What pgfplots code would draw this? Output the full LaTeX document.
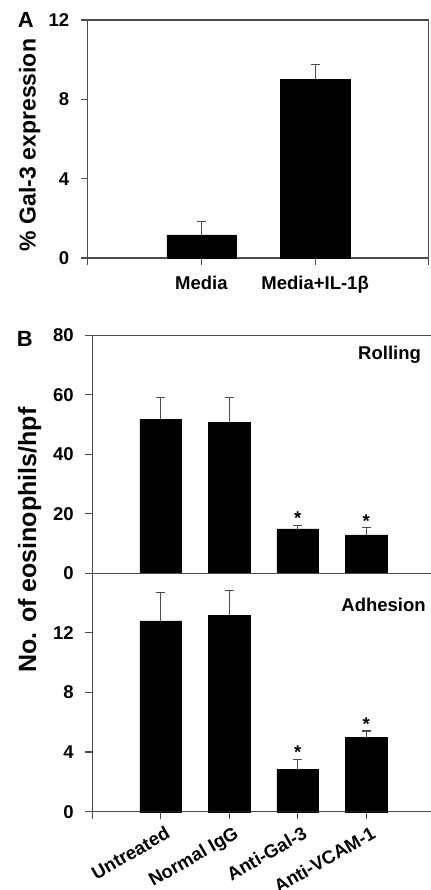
\documentclass[border=0pt]{standalone}
\usepackage{pgfplots}
\pgfplotsset{compat=1.18}
\usepackage{fontspec}
\setmainfont{Liberation Sans}
\begin{document}
\newcommand\tl{\fontsize{18.5}{20}\selectfont\bfseries}
\begin{tikzpicture}
\path[use as bounding box] (0,0) rectangle (428pt,890pt);
\clip (0,0) rectangle (428pt,890pt);
\pgfplotsset{
 every axis/.append style={scale only axis, anchor=south west,
   axis line style={line width=1.4pt, draw=black!70},
   every tick/.style={line width=1.2pt, draw=black!70},
   tick align=outside, major tick length=7pt,
   tick label style={font=\tl},
   y tick label style={xshift=-8pt},
   /pgf/number format/assume math mode=true,
   xtick pos=left, ytick pos=left, clip=false},
 bars/.style={ybar, bar width=0.61, fill=black, draw=black,
   error bars/.cd, y dir=plus, y explicit,
   error bar style={line width=1.2pt, draw=black!70},
   error mark options={rotate=90, mark size=4.5pt, line width=1.2pt, draw=black!70}},
 stars/.style={draw=none, nodes near coords={*},
   every node near coord/.append style={anchor=south, inner sep=0pt, yshift=0.5pt, font=\tl}},
}
% Panel A
\begin{axis}[at={(85pt,632pt)}, width=341pt, height=238pt,
  xmin=0, xmax=3, ymin=0, ymax=12,
  xtick={0,1,2,3}, xticklabels={,Media,Media+IL-1β,},
  x tick label style={yshift=-8pt},
  ytick={0,4,8,12}]
\addplot[bars] coordinates {(1,1.16) +- (0,0.67) (2,9.01) +- (0,0.76)};
\end{axis}
% Panel B rolling
\begin{axis}[at={(89.5pt,316.7pt)}, width=342.5pt, height=238pt,
  xmin=0, xmax=5, ymin=0, ymax=80,
  xtick=\empty, ytick={0,20,40,60,80}]
\addplot[bars] coordinates {(1,51.8) +- (0,7.4) (2,50.8) +- (0,8.4) (3,14.9) +- (0,1.2) (4,12.9) +- (0,2.4)};
\addplot[stars] coordinates {(3,16.1) (4,15.3)};
\node[anchor=east, font=\tl, inner sep=0pt] at (axis cs:4.8,73.4) {Rolling};
\end{axis}
% Panel B adhesion
\begin{axis}[at={(89.5pt,78.3pt)}, width=342.5pt, height=238.4pt,
  xmin=0, xmax=5, ymin=0, ymax=16,
  xtick={0,1,2,3,4,5}, xticklabels={,Untreated,Normal IgG,Anti-Gal-3,Anti-VCAM-1,},
  x tick label style={xshift=5pt, yshift=-2pt, rotate=30, anchor=north east},
  ytick={0,4,8,12}]
\addplot[bars] coordinates {(1,12.8) +- (0,1.9) (2,13.18) +- (0,1.68) (3,2.84) +- (0,0.69) (4,5.0) +- (0,0.41)};
\addplot[stars] coordinates {(3,3.53) (4,5.41)};
\node[anchor=east, font=\tl, inner sep=0pt] at (axis cs:4.87,13.87) {Adhesion};
\end{axis}
\node[rotate=90, font=\fontsize{23}{25}\selectfont\bfseries] at (27pt,745pt) {\% Gal-3 expression};
\node[rotate=90, font=\fontsize{25}{27}\selectfont\bfseries] at (27pt,350pt) {No. of eosinophils/hpf};
\node[font=\fontsize{22}{23}\selectfont\bfseries] at (23pt,870pt) {A};
\node[font=\fontsize{22}{23}\selectfont\bfseries] at (22pt,551pt) {B};
\end{tikzpicture}
\end{document}
